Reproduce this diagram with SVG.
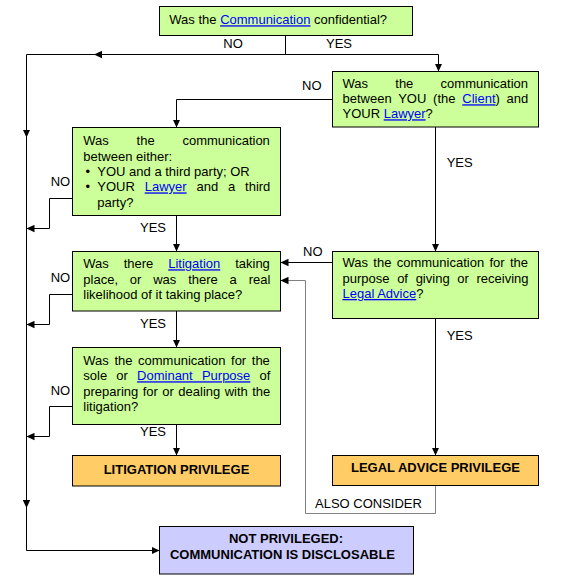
<svg xmlns="http://www.w3.org/2000/svg" width="569" height="577" viewBox="0 0 569 577">
<style>
text{font-family:"Liberation Sans",Arial,sans-serif;font-size:13px;fill:#000}
.b{font-weight:bold}
.lk{fill:#0000ff;text-decoration:underline}
.box{stroke:#000;stroke-width:1}
.g{fill:#ccff99}
.o{fill:#ffcc66}
.p{fill:#ccccff}
.c{fill:none;stroke:#000;stroke-width:1}
.gr{stroke:#808080}
</style>
<defs>
<marker id="ah" markerUnits="userSpaceOnUse" markerWidth="8" markerHeight="8" viewBox="0 0 8 7.4" refX="8" refY="3.7" orient="auto">
<path d="M0,0 L8,3.7 L0,7.4 z" fill="#000"/>
</marker>
</defs>
<rect width="569" height="577" fill="#fff"/>
<g id="connectors">
<path class="c" d="M285.5,35.5 V54.5"/>
<path class="c" d="M438.5,54.5 H94" marker-end="url(#ah)"/>
<path class="c" d="M95,54.5 H26.5 V137.5" marker-end="url(#ah)"/>
<path class="c" d="M26.5,136 V508" marker-end="url(#ah)"/>
<path class="c" d="M26.5,506 V550.5 H159.5" marker-end="url(#ah)"/>
<path class="c" d="M438.5,54.5 V71.5" marker-end="url(#ah)"/>
<path class="c" d="M332.5,99.5 H176.5 V127.5" marker-end="url(#ah)"/>
<path class="c" d="M435.5,127 V251.5" marker-end="url(#ah)"/>
<path class="c" d="M72.5,198.5 H49.5 V228.5 H26.5" marker-end="url(#ah)"/>
<path class="c" d="M176.5,215.5 V251.5" marker-end="url(#ah)"/>
<path class="c" d="M332.5,262.5 H280.5" marker-end="url(#ah)"/>
<path class="c" d="M72.5,294.5 H49.5 V324.5 H26.5" marker-end="url(#ah)"/>
<path class="c" d="M176.5,311 V347.5" marker-end="url(#ah)"/>
<path class="c" d="M72.5,406.5 H49.5 V436.5 H26.5" marker-end="url(#ah)"/>
<path class="c" d="M176.5,424.5 V455.5" marker-end="url(#ah)"/>
<path class="c" d="M435.5,318.5 V455.5" marker-end="url(#ah)"/>
<path class="c gr" d="M435.5,485.5 V513.5 H305.5 V280.5 H280.5" marker-end="url(#ah)"/>
<text x="223.3" y="48">NO</text>
<text x="326" y="48">YES</text>
<text x="302" y="90">NO</text>
<text x="446.7" y="167">YES</text>
<text x="50.7" y="186">NO</text>
<text x="140" y="232">YES</text>
<text x="303" y="255.7">NO</text>
<text x="50.7" y="281.7">NO</text>
<text x="140" y="328.3">YES</text>
<text x="446.7" y="340">YES</text>
<text x="50.7" y="395">NO</text>
<text x="140" y="436">YES</text>
<text x="315" y="507.7">ALSO CONSIDER</text>
</g>
<g id="q1">
<rect class="box g" x="159.5" y="6.5" width="253" height="29"/>
<text x="169.3" y="24.3">Was the <tspan class="lk">Communication</tspan> confidential?</text>
</g>
<g id="q2">
<rect class="box g" x="332.5" y="71.5" width="206" height="55.5"/>
<text x="342.5" y="88.3" word-spacing="23.65">Was the communication</text>
<text x="342.5" y="103.3" word-spacing="3.15">between YOU (the <tspan class="lk">Client</tspan>) and</text>
<text x="342.5" y="118.3">YOUR <tspan class="lk">Lawyer</tspan>?</text>
</g>
<g id="q3">
<rect class="box g" x="72.5" y="127.5" width="208" height="88"/>
<text x="83.3" y="145.2" word-spacing="24.15">Was the communication</text>
<text x="83.3" y="160.6">between either:</text>
<text x="85.5" y="176">•</text>
<text x="97.3" y="176">YOU and a third party; OR</text>
<text x="85.5" y="191.4">•</text>
<text x="97.3" y="191.4" word-spacing="6.22">YOUR <tspan class="lk">Lawyer</tspan> and a third</text>
<text x="97.3" y="206.8">party?</text>
</g>
<g id="q4">
<rect class="box g" x="72.5" y="251.5" width="208" height="59.5"/>
<text x="83.3" y="268.3" word-spacing="11.27">Was there <tspan class="lk">Litigation</tspan> taking</text>
<text x="83.3" y="283.5" word-spacing="8.21">place, or was there a real</text>
<text x="83.3" y="298.7">likelihood of it taking place?</text>
</g>
<g id="q5">
<rect class="box g" x="332.5" y="251.5" width="206" height="67"/>
<text x="342.5" y="267.3" word-spacing="1.71">Was the communication for the</text>
<text x="342.5" y="282.7" word-spacing="4.05">purpose of giving or receiving</text>
<text x="342.5" y="298"><tspan class="lk">Legal Advice</tspan>?</text>
</g>
<g id="q6">
<rect class="box g" x="72.5" y="347.5" width="208" height="77"/>
<text x="83.3" y="365" word-spacing="1.96">Was the communication for the</text>
<text x="83.3" y="380.3" word-spacing="5.57">sole or <tspan class="lk">Dominant Purpose</tspan> of</text>
<text x="83.3" y="395.6" word-spacing="0.84">preparing for or dealing with the</text>
<text x="83.3" y="411">litigation?</text>
</g>
<g id="litigation-privilege">
<rect class="box o" x="72.5" y="455.5" width="208" height="30.5"/>
<text class="b" x="176.5" y="473.5" text-anchor="middle">LITIGATION PRIVILEGE</text>
</g>
<g id="legal-advice-privilege">
<rect class="box o" x="332.5" y="455.5" width="206" height="30"/>
<text class="b" x="435.5" y="472" text-anchor="middle">LEGAL ADVICE PRIVILEGE</text>
</g>
<g id="not-privileged">
<rect class="box p" x="159.5" y="526.5" width="254" height="47.5"/>
<text class="b" x="286" y="543.3" text-anchor="middle">NOT PRIVILEGED:</text>
<text class="b" x="282.5" y="559" text-anchor="middle">COMMUNICATION IS DISCLOSABLE</text>
</g>
</svg>
